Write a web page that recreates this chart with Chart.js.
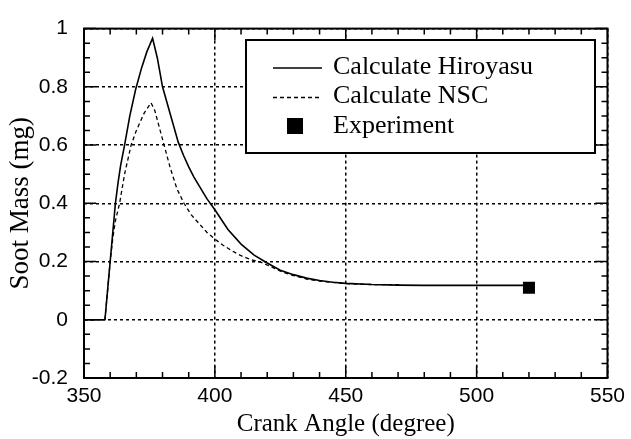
<!DOCTYPE html>
<html>
<head>
<meta charset="utf-8">
<script src="https://cdn.jsdelivr.net/npm/chart.js@4"></script>
<style>
  html, body { margin: 0; padding: 0; background: #fff; }
</style>
</head>
<body>
<canvas id="soot-chart" width="631" height="439"></canvas>
<script>
// soot mass vs crank angle
const hiroAngle = [350, 358, 359, 360, 361, 362, 363, 364, 365.5, 367.5, 369.7, 372, 374, 376.2, 378, 380, 383, 386, 388, 390, 392, 394, 397, 400, 405, 410, 415, 420, 425, 430, 435, 440, 445, 450, 460, 470, 480, 490, 500, 510, 520];
const hiroMass = [0, 0, 0.1, 0.2, 0.3, 0.4, 0.47, 0.53, 0.6, 0.7, 0.79, 0.865, 0.92, 0.967, 0.9, 0.8, 0.705, 0.61, 0.565, 0.525, 0.49, 0.46, 0.415, 0.378, 0.31, 0.26, 0.222, 0.195, 0.17, 0.155, 0.143, 0.135, 0.129, 0.125, 0.121, 0.119, 0.118, 0.118, 0.118, 0.118, 0.118];

const nscAngle = [350, 358, 359, 360, 361, 362, 363.6, 365.5, 368, 370, 373, 375.6, 377, 378.5, 380.6, 383, 385.5, 388.2, 391, 394, 397, 400, 403, 406.5, 410, 413, 418, 422, 426, 430, 435, 440, 450, 460, 471];
const nscMass = [0, 0, 0.1, 0.2, 0.28, 0.34, 0.4, 0.5, 0.6, 0.65, 0.71, 0.745, 0.72, 0.67, 0.6, 0.52, 0.45, 0.4, 0.36, 0.33, 0.3, 0.277, 0.257, 0.237, 0.22, 0.209, 0.196, 0.18, 0.163, 0.152, 0.14, 0.133, 0.124, 0.121, 0.121];

const expAngle = [520];
const expMass = [0.11];

const seriesNames = ["Calculate Hiroyasu", "Calculate NSC", "Experiment"];

const toPoints = (xs, ys) => xs.map((x, i) => ({ x: x, y: ys[i] }));

// frame, inward ticks and the boxed legend
const framePlugin = {
  id: "frame",
  afterDraw(chart) {
    const { ctx, chartArea: a, scales } = chart;
    const x = scales.x, y = scales.y;
    ctx.save();
    ctx.strokeStyle = "#000";
    ctx.lineWidth = 1.5;
    ctx.beginPath();
    for (let v = x.min; v <= x.max; v += 10) {
      const px = x.getPixelForValue(v);
      const len = v % 50 === 0 ? 12 : 6;
      ctx.moveTo(px, a.bottom); ctx.lineTo(px, a.bottom - len);
      ctx.moveTo(px, a.top); ctx.lineTo(px, a.top + len);
    }
    for (let i = -4; i <= 20; i++) {
      const py = y.getPixelForValue(i * 0.05);
      const len = i % 4 === 0 ? 12 : 6;
      ctx.moveTo(a.left, py); ctx.lineTo(a.left + len, py);
      ctx.moveTo(a.right, py); ctx.lineTo(a.right - len, py);
    }
    ctx.stroke();
    ctx.lineWidth = 2;
    ctx.strokeRect(a.left, a.top, a.right - a.left, a.bottom - a.top);

    // legend box
    const bx = 246, by = 40, bw = 349, bh = 113;
    ctx.fillStyle = "#fff";
    ctx.fillRect(bx, by, bw, bh);
    ctx.strokeRect(bx, by, bw, bh);
    ctx.font = "26px 'Liberation Serif', 'Times New Roman', serif";
    ctx.textBaseline = "middle";
    ctx.textAlign = "left";
    chart.data.datasets.forEach((ds, i) => {
      const cy = 67 + i * 29.5;
      ctx.fillStyle = "#000";
      if (ds.showLine === false) {
        ctx.fillRect(287, cy - 8, 16, 16);
      } else {
        ctx.lineWidth = 1.6;
        ctx.setLineDash(ds.borderDash || []);
        ctx.beginPath();
        ctx.moveTo(273, cy + 1);
        ctx.lineTo(322, cy + 1);
        ctx.stroke();
        ctx.setLineDash([]);
      }
      ctx.fillText(ds.label, 333, cy);
    });
    ctx.restore();
  }
};

const tickFont = { family: "'Liberation Sans', Arial, sans-serif", size: 21 };

new Chart("soot-chart", {
  type: "scatter",
  data: {
    datasets: [
      {
        label: seriesNames[0],
        data: toPoints(hiroAngle, hiroMass),
        showLine: true,
        borderColor: "#000",
        borderWidth: 1.6,
        pointRadius: 0,
        tension: 0,
      },
      {
        label: seriesNames[1],
        data: toPoints(nscAngle, nscMass),
        showLine: true,
        borderColor: "#000",
        borderWidth: 1.3,
        borderDash: [4, 3],
        pointRadius: 0,
        tension: 0,
      },
      {
        label: seriesNames[2],
        data: toPoints(expAngle, expMass),
        showLine: false,
        pointStyle: "rect",
        pointRadius: 8.5,
        backgroundColor: "#000",
        borderColor: "#000",
        borderWidth: 0,
      },
    ],
  },
  options: {
    responsive: false,
    animation: false,
    events: [],
    layout: { padding: { top: 23, right: 19, left: 0, bottom: 0 } },
    plugins: { legend: { display: false }, tooltip: { enabled: false } },
    scales: {
      x: {
        type: "linear",
        min: 350,
        max: 550,
        afterFit: (s) => { s.height = 61; },
        ticks: { stepSize: 50, color: "#000", font: tickFont, padding: 6, maxRotation: 0 },
        grid: { color: "#000", lineWidth: 1.5, drawTicks: false },
        border: { display: false, dash: [3, 3] },
        title: {
          display: true,
          text: "Crank Angle (degree)",
          color: "#000",
          font: { family: "'Liberation Serif', 'Times New Roman', serif", size: 25, lineHeight: 1.2 },
          padding: { top: 0, bottom: 0 },
        },
      },
      y: {
        min: -0.2,
        max: 1,
        afterFit: (s) => { s.width = 84; },
        ticks: {
          stepSize: 0.2,
          color: "#000",
          font: tickFont,
          padding: 16,
          callback: (v) => String(Math.round(v * 10) / 10),
        },
        grid: { color: "#000", lineWidth: 1.5, drawTicks: false },
        border: { display: false, dash: [3, 3] },
        title: {
          display: true,
          text: "Soot Mass (mg)",
          color: "#000",
          font: { family: "'Liberation Serif', 'Times New Roman', serif", size: 27, lineHeight: 1.2 },
          padding: { top: 5, bottom: 0 },
        },
      },
    },
  },
  plugins: [framePlugin],
});
</script>
</body>
</html>
